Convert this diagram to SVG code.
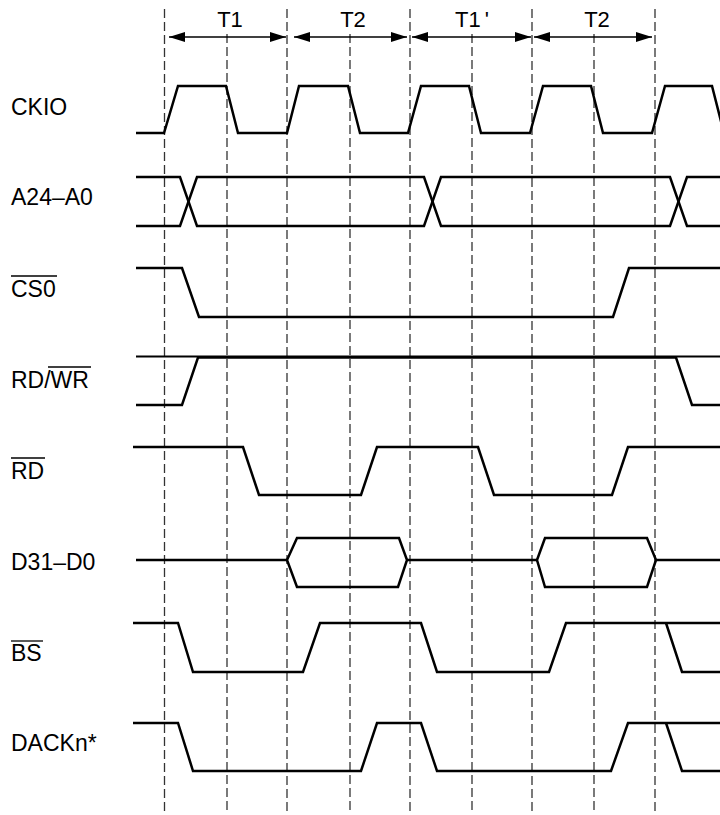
<svg xmlns="http://www.w3.org/2000/svg" width="720" height="815" viewBox="0 0 720 815">
<style>
.bg{fill:#fff}
.lbl{font-family:"Liberation Sans",Arial,sans-serif;font-size:23px;fill:#000}
.tl{font-family:"Liberation Sans",Arial,sans-serif;font-size:22px;fill:#000;text-anchor:middle}
.ov{stroke:#000;stroke-width:1.3}
.sig{fill:none;stroke:#000;stroke-width:2.5;stroke-linejoin:miter}
.grid{stroke:#333;stroke-width:1.3;stroke-dasharray:9 4}
.arr{stroke:#000;stroke-width:1.3;marker-start:url(#ah);marker-end:url(#ah)}
</style>
<defs>
<marker id="ah" viewBox="0 0 16 10" refX="16" refY="5" markerWidth="16" markerHeight="10" markerUnits="userSpaceOnUse" orient="auto-start-reverse">
<path d="M0,0 L16,5 L0,10 Z" fill="#000"/>
</marker>
</defs>
<rect class="bg" x="0" y="0" width="720" height="815"/>
<g id="grid">
<line class="grid" x1="164.5" y1="9" x2="164.5" y2="813"/>
<line class="grid" x1="287" y1="9" x2="287" y2="813"/>
<line class="grid" x1="410" y1="9" x2="410" y2="813"/>
<line class="grid" x1="532" y1="9" x2="532" y2="813"/>
<line class="grid" x1="655" y1="9" x2="655" y2="813"/>
<line class="grid" x1="227" y1="34" x2="227" y2="813"/>
<line class="grid" x1="350" y1="34" x2="350" y2="813"/>
<line class="grid" x1="472" y1="34" x2="472" y2="813"/>
<line class="grid" x1="594" y1="34" x2="594" y2="813"/>
</g>
<g id="connectors">
<line class="arr" x1="169" y1="37" x2="286" y2="37"/>
<line class="arr" x1="294" y1="37" x2="407" y2="37"/>
<line class="arr" x1="412" y1="37" x2="531" y2="37"/>
<line class="arr" x1="534" y1="37" x2="652" y2="37"/>
</g>
<g id="period-labels">
<text class="tl" x="230" y="27">T1</text>
<text class="tl" x="353" y="27">T2</text>
<text class="lbl" style="font-size:22px" x="455" y="27">T1<tspan dx="4">'</tspan></text>
<text class="tl" x="597" y="27">T2</text>
</g>
<g id="CKIO">
<text class="lbl" x="11" y="115">CKIO</text>
<path class="sig" d="M136,133 H164 L178,86 H226 L238,133 H287 L299,86 H348 L360,133 H408 L421,86 H469 L481,133 H530 L543,86 H591 L603,133 H652 L665,86 H712 L724,133"/>
</g>
<g id="A24-A0">
<text class="lbl" x="11" y="205">A24–A0</text>
<path class="sig" d="M136,177 H180 L197,226 H424 L441,177 H670 L687,226 H720"/>
<path class="sig" d="M136,226 H180 L197,177 H424 L441,226 H670 L687,177 H720"/>
</g>
<g id="CS0">
<text class="lbl" x="11" y="297">CS0</text>
<line class="ov" x1="11" y1="276" x2="57" y2="276"/>
<path class="sig" d="M136,268 H182 L199,317 H613 L629,268 H720"/>
</g>
<g id="RD-WR">
<text class="lbl" x="11" y="388">RD/WR</text>
<line class="ov" x1="48" y1="367" x2="91" y2="367"/>
<path class="sig" style="stroke-width:2.2" d="M136,356.5 H720"/>
<path class="sig" d="M136,405 H182 L198,357.5 H676 L692,405 H720"/>
</g>
<g id="RD">
<text class="lbl" x="11" y="479">RD</text>
<line class="ov" x1="11" y1="458" x2="45" y2="458"/>
<path class="sig" d="M133,447 H243 L259,495 H361 L377,447 H478 L494,495 H612 L628,447 H720"/>
</g>
<g id="D31-D0">
<text class="lbl" x="11" y="570">D31–D0</text>
<path class="sig" d="M136,560 H287 M407,560 H537 M656,560 H720"/>
<path class="sig" d="M287,560 L297,538 H399 L407,560 L398,587 H297 Z"/>
<path class="sig" d="M537,560 L545,538 H647 L656,560 L647,587 H545 Z"/>
</g>
<g id="BS">
<text class="lbl" x="11" y="661">BS</text>
<line class="ov" x1="11" y1="641" x2="43" y2="641"/>
<path class="sig" d="M133,623 H178 L193,672 H303 L320,623 H421 L437,672 H549 L566,623 H720"/>
<path class="sig" d="M666,623 L682,672 H720"/>
</g>
<g id="DACKn">
<text class="lbl" x="11" y="751">DACKn*</text>
<path class="sig" d="M133,723 H178 L193,771 H361 L377,723 H421 L437,771 H611 L628,723 H720"/>
<path class="sig" d="M666,723 L682,771 H720"/>
</g>
</svg>
